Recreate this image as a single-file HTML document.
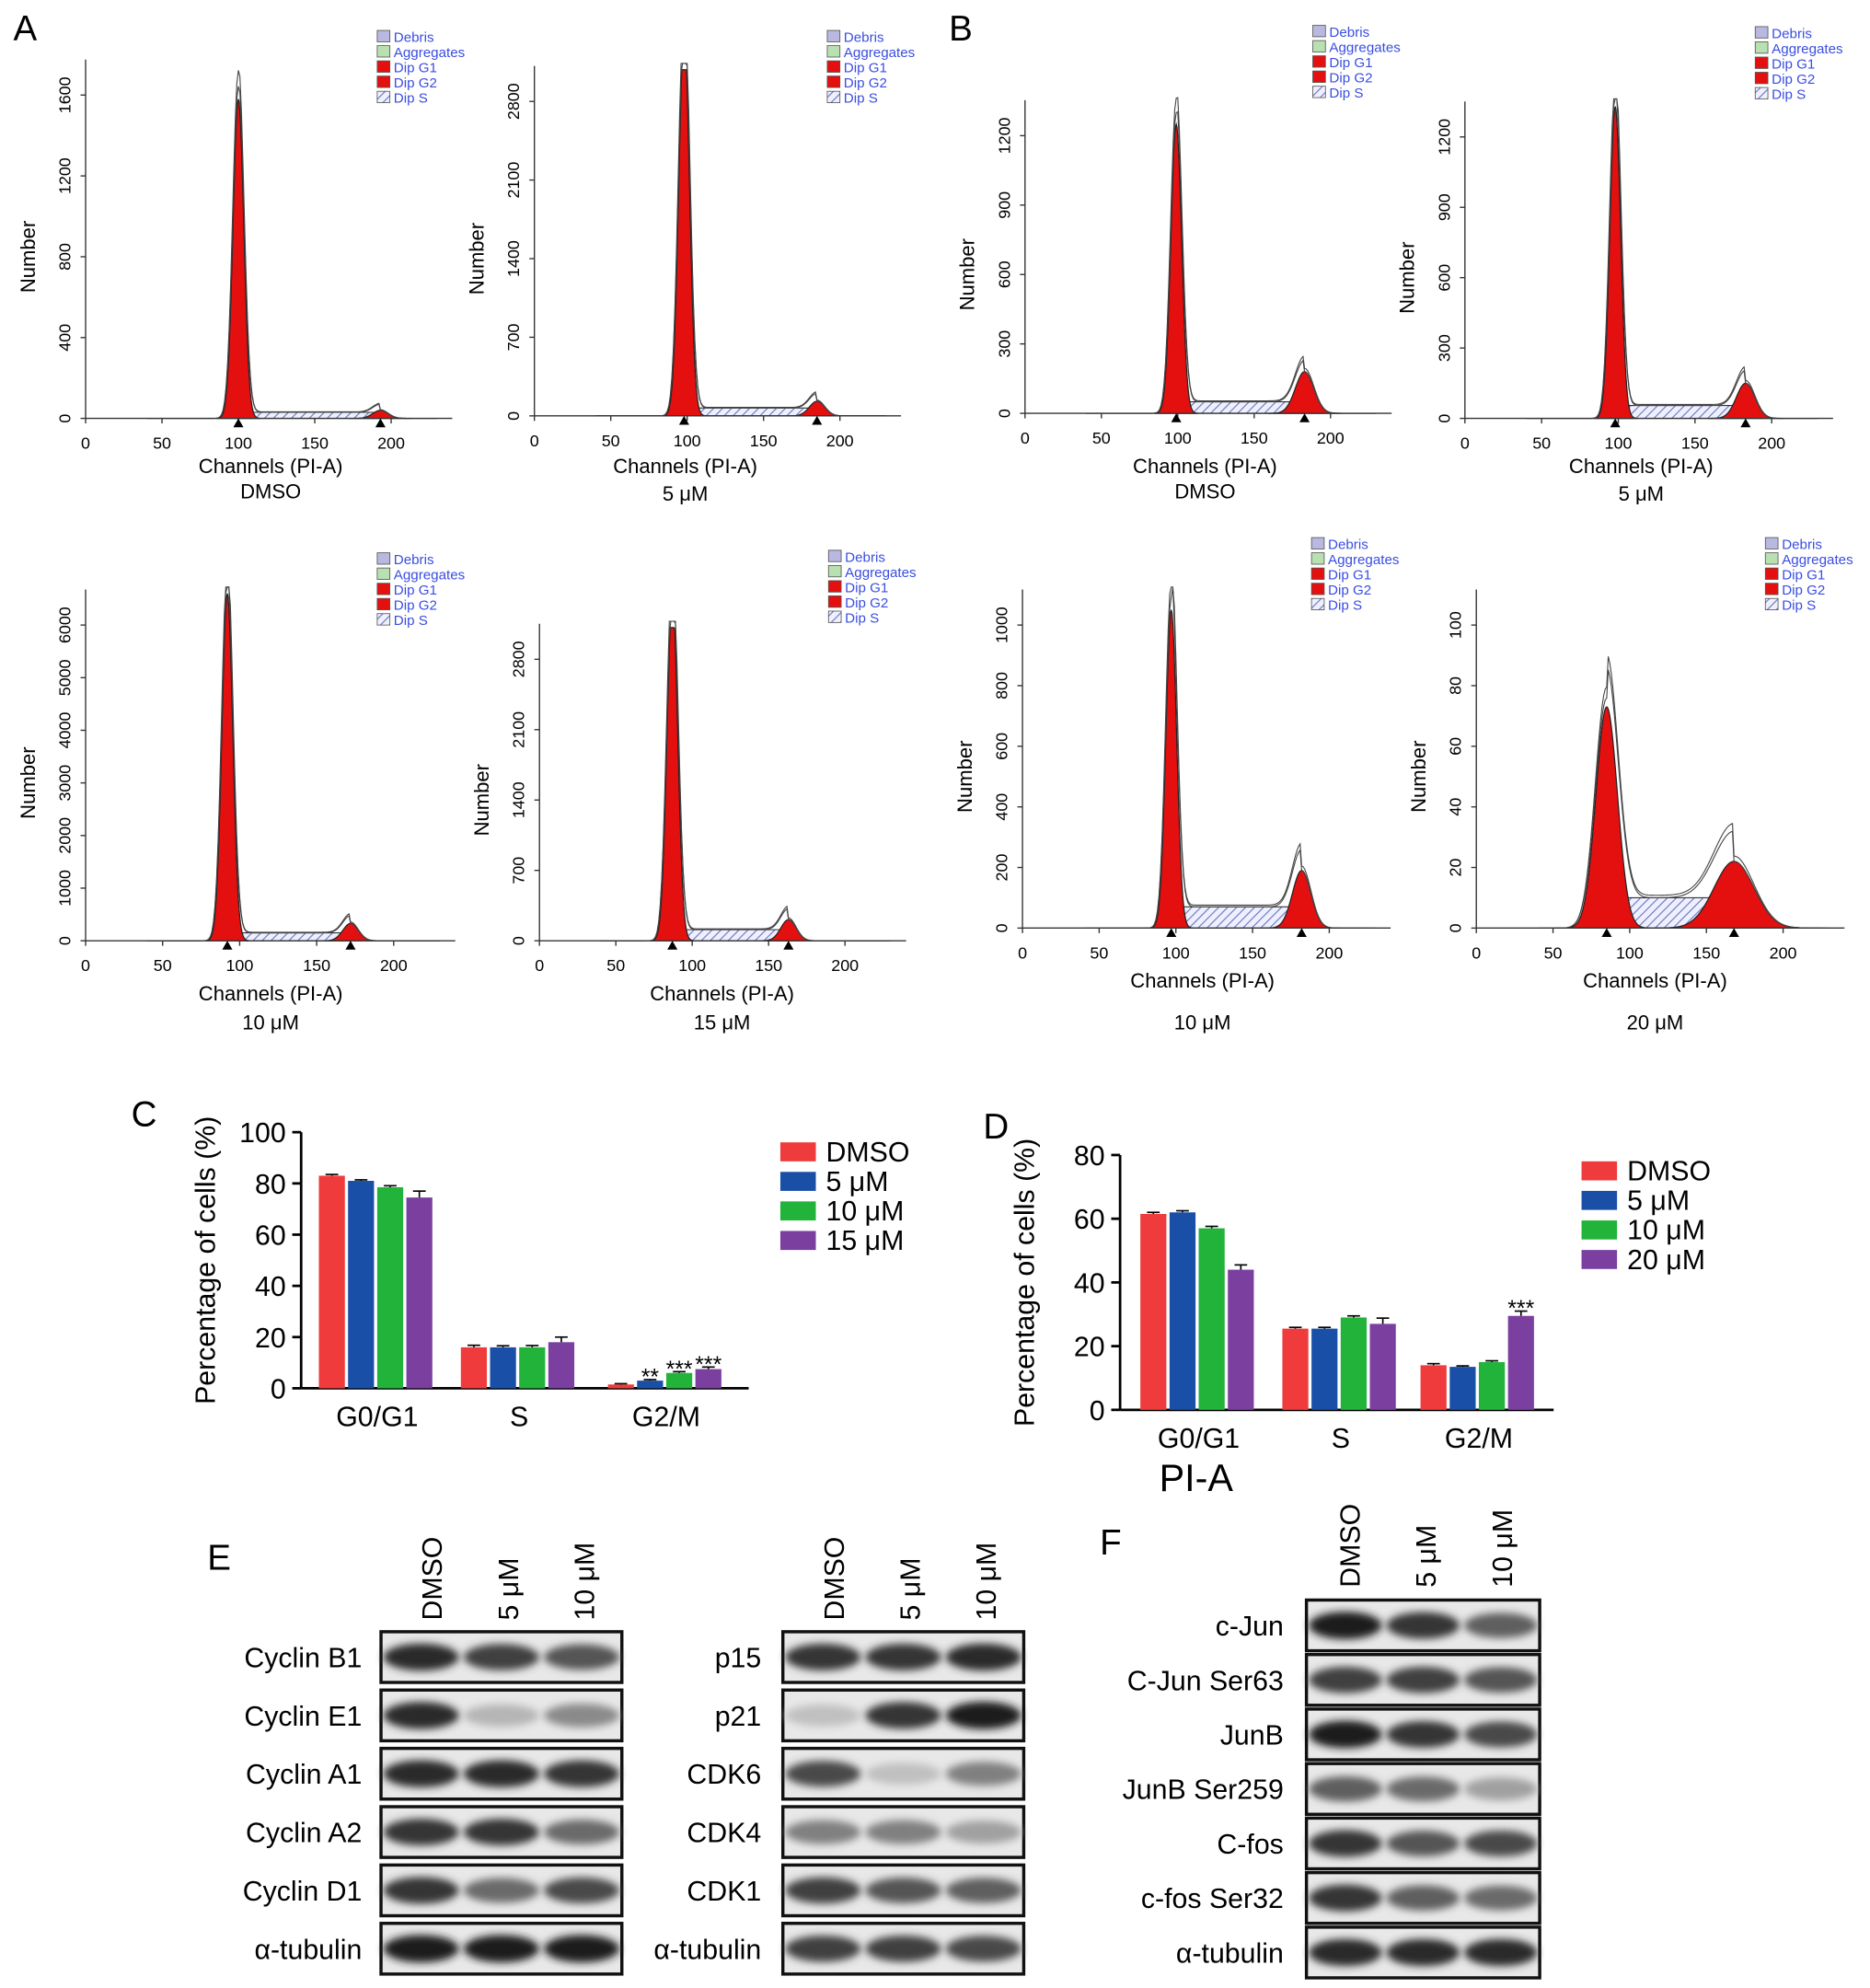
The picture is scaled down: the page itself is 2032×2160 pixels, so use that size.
<!DOCTYPE html>
<html><head><meta charset="utf-8"><style>
html,body{margin:0;padding:0;background:#fff}
svg{display:block;font-family:"Liberation Sans",sans-serif}
</style></head><body>
<svg id="fig" width="2032" height="2160" viewBox="0 0 1474 1568" xmlns="http://www.w3.org/2000/svg">
<defs>
<pattern id="hatch" width="5" height="5" patternUnits="userSpaceOnUse" patternTransform="rotate(45)"><rect width="5" height="5" fill="#eef0ff"/><line x1="0" y1="0" x2="0" y2="5" stroke="#6a72b8" stroke-width="1.6"/></pattern>
<filter id="blur" x="-20%" y="-50%" width="140%" height="200%"><feGaussianBlur stdDeviation="3"/></filter>
</defs>
<g id="root"></g>
</svg>
<script>
// ---------- histogram data ----------
const histLabels = ["DMSO","5 μM","10 μM","15 μM","DMSO","5 μM","10 μM","20 μM"];
const histG1Pos = [100,98,92,87,99,98,97,85];
const histG1Height = [1580,3400,6600,3400,1250,1330,1050,73];
const histG1Sd = [3.5,3.5,3.5,3.5,3.5,3.5,3.5,7];
const histG2Pos = [193,185,172,163,183,183,182,168];
const histG2Height = [40,130,330,210,180,150,190,22];
const histG2Sd = [5,5,5,5,6,6,6,13];
const histSHeight = [30,70,150,110,50,55,70,10];
const histTickStep = [400,700,1000,700,300,300,200,20];
const histTickCount = [4,4,6,4,4,4,5,5];
const xTickLabels = [0,50,100,150,200];
// ---------- bar chart data ----------
const barCategories = ["G0/G1","S","G2/M"];
const cSeriesNames = ["DMSO","5 μM","10 μM","15 μM"];
const cDMSO = [83,16,1.5];
const c5 = [81,16,3];
const c10 = [78.5,16,6];
const c15 = [74.5,18,7.5];
const cErr = [[0.5,0.8,0.3],[0.4,0.6,0.4],[0.6,0.7,0.5],[2.5,2,0.8]];
const cStars = [["","",""],["","","**"],["","","***"],["","","***"]];
const cTicks = [0,20,40,60,80,100];
const dSeriesNames = ["DMSO","5 μM","10 μM","20 μM"];
const dDMSO = [61.5,25.5,14];
const d5 = [62,25.5,13.5];
const d10 = [57,29,15];
const d20 = [44,27,29.5];
const dErr = [[0.5,0.4,0.5],[0.5,0.4,0.3],[0.6,0.5,0.4],[1.5,1.8,1.5]];
const dStars = [["","",""],["","",""],["","",""],["","","***"]];
const dTicks = [0,20,40,60,80];
// ---------- blot data ----------
const eLeftRows = ["Cyclin B1","Cyclin E1","Cyclin A1","Cyclin A2","Cyclin D1","α-tubulin"];
const eLeftBands = [[0.9,0.8,0.7],[0.9,0.25,0.45],[0.9,0.9,0.85],[0.85,0.85,0.6],[0.85,0.6,0.75],[0.95,0.95,0.95]];
const eRightRows = ["p15","p21","CDK6","CDK4","CDK1","α-tubulin"];
const eRightBands = [[0.85,0.85,0.9],[0.2,0.85,0.95],[0.75,0.2,0.5],[0.5,0.5,0.35],[0.8,0.7,0.65],[0.8,0.8,0.75]];
const fRows = ["c-Jun","C-Jun Ser63","JunB","JunB Ser259","C-fos","c-fos Ser32","α-tubulin"];
const fBands = [[0.95,0.85,0.65],[0.8,0.8,0.7],[0.95,0.85,0.75],[0.65,0.6,0.35],[0.85,0.7,0.75],[0.85,0.65,0.6],[0.9,0.9,0.9]];
const blotCols = ["DMSO","5 μM","10 μM"];

const NS="http://www.w3.org/2000/svg";
const root=document.getElementById('root');
function el(tag,attrs,parent,txt){const e=document.createElementNS(NS,tag);for(const k in attrs)e.setAttribute(k,attrs[k]);if(txt!==undefined)e.textContent=txt;(parent||root).appendChild(e);return e;}

[["A",10,32],["B",748,32],["C",103,888],["D",775,898],["E",163,1238],["F",867,1226]].forEach(l=>{
  const t=el('text',{x:l[1],y:l[2],'font-size':28},root,l[0]);
  
  
});

const histLayout=[
 [67,330,1.205,75,297,24,213,367,387],
 [421,328,1.205,80,652,24,540,367,389],
 [67,742,1.215,493,297,436,213,783,806],
 [425,742,1.205,520,653,434,569,783,806],
 [808,326,1.205,107,1035,20,950,367,387],
 [1155,330,1.21,108,1384,21,1294,367,389],
 [806,732,1.21,493,1034,424,948,773,806],
 [1164,732,1.21,493,1392,424,1305,773,806]];
const gauss=(x,m,h,s)=>h*Math.exp(-0.5*((x-m)/s)**2);
histLayout.forEach((L,i)=>{
  const [ox,oy,kx,topY,lx,ly,labX,titY,labY]=L;
  const g=el('g',{});
  
  
  const top=histTickStep[i]*histTickCount[i];
  const ky=(oy-topY)/top;
  const X=c=>ox+c*kx;
  let sPts=[];
  for(let c=histG1Pos[i];c<=histG2Pos[i];c+=1)sPts.push(X(c)+','+(oy-histSHeight[i]*ky));
  const sp=el('polygon',{points:X(histG1Pos[i])+','+oy+' '+sPts.join(' ')+' '+X(histG2Pos[i])+','+oy,fill:'url(#hatch)',stroke:'#333','stroke-width':0.8},g);
  
  
  [[histG1Pos[i],histG1Height[i],histG1Sd[i],'g1'],[histG2Pos[i],histG2Height[i],histG2Sd[i],'g2']].forEach(p=>{
    let pts=[];
    for(let c=p[0]-4*p[2];c<=p[0]+4*p[2];c+=0.5)pts.push(X(c)+','+Math.max(oy-gauss(c,p[0],p[1],p[2])*ky,topY-25));
    const pk=el('polygon',{points:pts.join(' ')+' '+X(p[0]+4*p[2])+','+oy+' '+X(p[0]-4*p[2])+','+oy,fill:'#e41010',stroke:'#222','stroke-width':0.9},g);
    
    
  });
  for(let r=0;r<2;r++){
    let pts=[];
    for(let c=40;c<=230;c+=1){
      let v=gauss(c,histG1Pos[i],histG1Height[i]*(1.04+0.05*r),histG1Sd[i]*1.05)+gauss(c,histG2Pos[i],histG2Height[i]*(1.0+0.08*r),histG2Sd[i]);
      if(c>histG1Pos[i]&&c<histG2Pos[i])v+=histSHeight[i]*(1.0+0.08*r);
      pts.push(X(c)+','+Math.max(oy-v*ky,topY-30));
    }
    const oc=el('polyline',{points:pts.join(' '),fill:'none',stroke:'#444','stroke-width':0.8},g);
    
    
  }
  el('line',{x1:ox,y1:oy,x2:ox+240*kx,y2:oy,stroke:'#333','stroke-width':1},g);
  el('line',{x1:ox,y1:oy,x2:ox,y2:topY-28,stroke:'#333','stroke-width':1},g);
  xTickLabels.forEach(t=>{
    el('line',{x1:X(t),y1:oy,x2:X(t),y2:oy+4,stroke:'#333'},g);
    const tx=el('text',{x:X(t),y:oy+24,'font-size':13,'text-anchor':'middle'},g,t);
    
    
  });
  for(let k=0;k<=histTickCount[i];k++){
    const v=k*histTickStep[i],yy=oy-v*ky;
    el('line',{x1:ox-4,y1:yy,x2:ox,y2:yy,stroke:'#333'},g);
    const tx=el('text',{x:ox-12,y:yy,'font-size':13,'text-anchor':'middle',transform:`rotate(-90 ${ox-12} ${yy})`},g,v);
    
    
  }
  [histG1Pos[i],histG2Pos[i]].forEach(c=>el('polygon',{points:`${X(c)-4},${oy+7} ${X(c)+4},${oy+7} ${X(c)},${oy}`,fill:'#000'},g));
  const yt=el('text',{x:ox-40,y:(oy+topY)/2,'font-size':16,'text-anchor':'middle',transform:`rotate(-90 ${ox-40} ${(oy+topY)/2})`},g,'Number');
  
  
  const xt=el('text',{x:labX,y:titY+6,'font-size':16,'text-anchor':'middle'},g,'Channels (PI-A)');
  
  
  const lb=el('text',{x:labX,y:labY+6,'font-size':16,'text-anchor':'middle'},g,histLabels[i]);
  
  
  const lg=[["Debris","#b8b8e0"],["Aggregates","#b8e0b0"],["Dip G1","#e41010"],["Dip G2","#e41010"],["Dip S","url(#hatch)"]];
  lg.forEach((e,k)=>{
    el('rect',{x:lx,y:ly+k*12,width:10,height:9,fill:e[1],stroke:'#555','stroke-width':0.6},g);
    const t=el('text',{x:lx+13,y:ly+k*12+9,'font-size':11,fill:'#3a4ee0'},g,e[0]);
    
    
  });
});

const colors=["#ef3b3b","#1a4fa8","#22b33a","#7b3fa0"];
function barChart(name,ax,ay0,ay1,ymax,xEnd,groupX,series,errs,stars,ticks,names,legX,legY,fs){
  const g=el('g',{});
  
  
  const Y=v=>ay0-(v/ymax)*(ay0-ay1);
  el('line',{x1:ax,y1:ay0,x2:xEnd,y2:ay0,stroke:'#000','stroke-width':2},g);
  el('line',{x1:ax,y1:ay0,x2:ax,y2:Y(ymax),stroke:'#000','stroke-width':2},g);
  ticks.forEach(t=>{
    el('line',{x1:ax-7,y1:Y(t),x2:ax,y2:Y(t),stroke:'#000','stroke-width':2},g);
    const tx=el('text',{x:ax-12,y:Y(t)+8,'font-size':22,'text-anchor':'end'},g,t);
    
    
  });
  const bw=20.5;
  barCategories.forEach((c,ci)=>{
    const tx=el('text',{x:groupX[ci],y:ay0+30,'font-size':22,'text-anchor':'middle'},g,c);
    
    
    series.forEach((s,si)=>{
      const x=groupX[ci]-2*(bw+2.5)+si*(bw+2.5);
      const r=el('rect',{x:x,y:Y(s[ci]),width:bw,height:ay0-Y(s[ci]),fill:colors[si]},g);
      
      
      const e=errs[si][ci],cx=x+bw/2;
      el('line',{x1:cx,y1:Y(s[ci]),x2:cx,y2:Y(s[ci]+e),stroke:'#000','stroke-width':1.2},g);
      el('line',{x1:cx-5,y1:Y(s[ci]+e),x2:cx+5,y2:Y(s[ci]+e),stroke:'#000','stroke-width':1.2},g);
      if(stars[si][ci]){const st=el('text',{x:cx,y:Y(s[ci]+e)+4,'font-size':18,'text-anchor':'middle'},g,stars[si][ci]);
        }
    });
  });
  const yt=el('text',{x:ax-68,y:(ay0+Y(ymax))/2,'font-size':22,'text-anchor':'middle',transform:`rotate(-90 ${ax-68} ${(ay0+Y(ymax))/2})`},g,'Percentage of cells (%)');
  
  
  names.forEach((n,k)=>{
    el('rect',{x:legX,y:legY+k*23.3-7,width:28,height:15,fill:colors[k]},g);
    const t=el('text',{x:legX+36,y:legY+k*23.3+8,'font-size':fs},g,n);
    
    
  });
}
barChart('bar-chart-c',237,1095,893,100,590,[297,409,525],[cDMSO,c5,c10,c15],cErr,cStars,cTicks,cSeriesNames,615,908,22);
barChart('bar-chart-d',883,1112,911,80,1225,[945,1057,1166],[dDMSO,d5,d10,d20],dErr,dStars,dTicks,dSeriesNames,1247,923,22);
const pia=el('text',{x:943,y:1176,'font-size':30,'text-anchor':'middle'},root,'PI-A');



function blot(name,x0,x1,y0,rowH,gap,rows,bands,labelX,colX,colY){
  const g=el('g',{});
  
  
  rows.forEach((r,ri)=>{
    const y=y0+ri*(rowH+gap);
    el('rect',{x:x0,y:y,width:x1-x0,height:rowH,fill:'#e8e8e8',stroke:'#111','stroke-width':2.5},g);
    const w=(x1-x0)/3;
    bands[ri].forEach((b,bi)=>{
      const c=Math.round(235-b*215);
      const e=el('ellipse',{cx:x0+w*(bi+0.5),cy:y+rowH/2,rx:w*0.47,ry:rowH*0.2+b*3,fill:`rgb(${c},${c},${c})`,filter:'url(#blur)'},g);
      
      
    });
    const t=el('text',{x:labelX,y:y+rowH/2+8,'font-size':22,'text-anchor':'end'},g,r);
    
    
  });
  blotCols.forEach((c,ci)=>{
    const t=el('text',{x:colX[ci],y:colY,'font-size':22,transform:`rotate(-90 ${colX[ci]} ${colY})`},g,c);
    
    
  });
}
blot('blot-e-left',300,490,1287,40,6,eLeftRows,eLeftBands,285,[348,408,468],1278);
blot('blot-e-right',617,807,1287,40,6,eRightRows,eRightBands,600,[665,725,785],1278);
blot('blot-f',1030,1214,1262,40,3,fRows,fBands,1012,[1072,1132,1192],1252);
</script>
</body></html>
